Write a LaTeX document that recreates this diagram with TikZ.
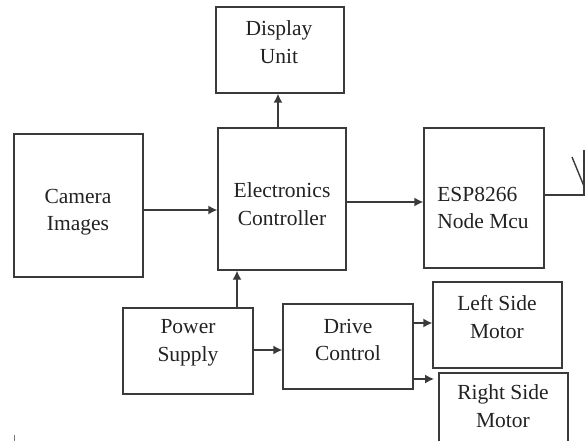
\documentclass[tikz,border=0pt]{standalone}
\usepackage{fontspec}
\setmainfont{Liberation Serif}
\usetikzlibrary{arrows.meta}
\definecolor{ln}{HTML}{3A3A3A}
\definecolor{tx}{HTML}{222222}
\tikzset{
  box/.style={draw=ln, line width=1.4pt, rectangle, inner sep=0pt},
  txt/.style={text=tx, align=center, font=\fontsize{21.5}{27.5}\selectfont, inner sep=0pt},
  arr/.style={draw=ln, line width=1.4pt, -{Latex[length=9pt,width=9pt]}},
  wire/.style={draw=ln, line width=1.4pt}
}
\begin{document}
\begin{tikzpicture}[x=1pt,y=-1pt]
\useasboundingbox (0,0) rectangle (587,441);
\clip (0,0) rectangle (587,441);
% boxes
\node[box, minimum width=128pt, minimum height=86pt] (disp) at (280,50) {};
\node[box, minimum width=129pt, minimum height=143pt] (cam) at (78.5,205.5) {};
\node[box, minimum width=128pt, minimum height=142pt] (ec) at (282,199) {};
\node[box, minimum width=120pt, minimum height=140pt] (esp) at (484,198) {};
\node[box, minimum width=130pt, minimum height=86pt] (ps) at (188,351) {};
\node[box, minimum width=130pt, minimum height=85pt] (dc) at (348,346.5) {};
\node[box, minimum width=129pt, minimum height=86pt] (lm) at (497.5,325) {};
\node[box, minimum width=129pt, minimum height=80pt] (rm) at (503.5,413) {};
% texts
\node[txt] (tdisp) at (279,42) {Display\\Unit};
\node[txt] (tcam) at (78,212) {Camera\\Images};
\node[txt] (tec) at (282,204) {Electronics\\Controller};
\node[txt, align=left] (tesp) at (483,208) {ESP8266\\Node Mcu};
\node[txt] (tps) at (188,343) {Power\\Supply};
\node[txt] (tdc) at (348,340) {Drive\\Control};
\node[txt] (tlm) at (497,317) {Left Side\\Motor};
\node[txt] (trm) at (503,406) {Right Side\\Motor};
% connectors
\draw[arr] (cam.east |- 0,210) -- (ec.west |- 0,210);
\draw[arr] (ec.east |- 0,202) -- (esp.west |- 0,202);
\draw[arr] (ec.north -| 278,0) -- (disp.south -| 278,0);
\draw[arr] (ps.north -| 237,0) -- (ec.south -| 237,0);
\draw[arr] (ps.east |- 0,350) -- (dc.west |- 0,350);
\draw[arr] (dc.east |- 0,323) -- (lm.west |- 0,323);
\coordinate (rmend) at (434,379);
\draw[arr] (dc.east |- 0,379) -- (rmend);
% antenna
\coordinate (ant) at (584,195);
\coordinate (anttop) at (584,150);
\coordinate (antarm) at (572,157);
\coordinate (antv) at (583.5,185);
\draw[wire] (esp.east |- 0,195) -- (ant) -- (anttop);
\draw[wire] (antarm) -- (antv);
% bottom-left tick
\coordinate (tk1) at (14,435);
\coordinate (tk2) at (14,442);
\draw[draw=ln!70, line width=1pt] (tk1) -- (tk2);
\end{tikzpicture}
\end{document}
